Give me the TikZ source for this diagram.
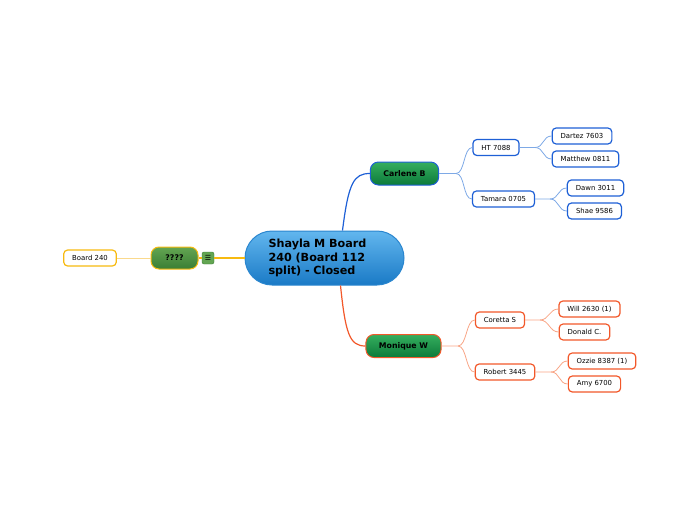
\documentclass[tikz,border=0pt]{standalone}
\usepackage{fontspec}
\setmainfont{DejaVu Sans}
\usepackage{tikz}
\usetikzlibrary{shadings}
\definecolor{rootA}{HTML}{62B6EE}
\definecolor{rootB}{HTML}{1A7AC6}
\definecolor{rootline}{HTML}{2A86CF}
\definecolor{greenA}{HTML}{35AE5E}
\definecolor{greenB}{HTML}{0C7A3A}
\definecolor{oliveA}{HTML}{63A552}
\definecolor{oliveB}{HTML}{3A7E34}
\definecolor{bluedeep}{HTML}{1E60D6}
\definecolor{bluepale}{HTML}{7EA9E6}
\definecolor{redorange}{HTML}{F2582A}
\definecolor{redpale}{HTML}{F8A586}
\definecolor{amber}{HTML}{F7BA10}
\definecolor{amberpale}{HTML}{FAD98C}

\begin{document}
\begin{tikzpicture}[x=1pt, y=-1pt,
  root/.style={draw=rootline, line width=1pt, rounded corners=27, minimum width=159, minimum height=54, top color=rootA, bottom color=rootB, text width=112, align=left, font=\fontsize{11.2}{13.5}\selectfont\bfseries},
  topic/.style={draw, line width=1pt, rounded corners=8, minimum height=23, inner xsep=13, top color=greenA, bottom color=greenB, font=\fontsize{7.8}{9}\selectfont\bfseries},
  leaf/.style={draw, fill=white, line width=1.2pt, rounded corners=4, minimum height=16, inner xsep=8.5, font=\fontsize{6.9}{8}\selectfont},
  thick line/.style={line width=1.2pt},
  thin line/.style={line width=0.8pt}]
\useasboundingbox (0,0) rectangle (697,520);
%center
\node[root] (shayla) at (324.5,258) {Shayla M Board\\240 (Board 112\\split) - Closed};
%left side
\node[topic, draw=amber, top color=oliveA, bottom color=oliveB, minimum width=47, minimum height=22] (unknown) at (174.5,258) {????};
\node[draw=oliveB, fill=oliveA, rounded corners=2, minimum size=12, inner sep=0, font=\fontsize{7}{7}\selectfont] (notes) at (208,258) {☰};
\node[leaf, draw=amber] (b240) at (90,258) {Board 240};
%upper branch
\node[topic, draw=bluedeep] (carlene) at (404.5,173.5) {Carlene B};
\node[leaf, draw=bluedeep] (ht) at (496,147.5) {HT 7088};
\node[leaf, draw=bluedeep] (tamara) at (503.5,199) {Tamara 0705};
\node[leaf, draw=bluedeep] (dartez) at (582,136) {Dartez 7603};
\node[leaf, draw=bluedeep] (matthew) at (585.5,159) {Matthew 0811};
\node[leaf, draw=bluedeep] (dawn) at (595.5,188) {Dawn 3011};
\node[leaf, draw=bluedeep] (shae) at (594.5,211) {Shae 9586};
%lower branch
\node[topic, draw=redorange] (monique) at (403.5,346) {Monique W};
\node[leaf, draw=redorange] (coretta) at (500,320) {Coretta S};
\node[leaf, draw=redorange] (robert) at (505,372) {Robert 3445};
\node[leaf, draw=redorange] (will) at (589.5,309) {Will 2630 (1)};
\node[leaf, draw=redorange] (donald) at (584.5,332) {Donald C.};
\node[leaf, draw=redorange] (ozzie) at (602,361) {Ozzie 8387 (1)};
\node[leaf, draw=redorange] (amy) at (594.5,384) {Amy 6700};
%junctions
\coordinate (jcarlene) at (456,173.5);
\coordinate (jht) at (535,147.5);
\coordinate (jtamara) at (550,199);
\coordinate (jmonique) at (458,346);
\coordinate (jcoretta) at (540,320);
\coordinate (jrobert) at (551,372);
%connectors
\draw[thick line, amber] (shayla.west) -- (notes.east);
\draw[thick line, amber] (notes.west) -- (unknown.east);
\draw[thin line, amberpale] (unknown.west) -- (b240.east);
\draw[thick line, bluedeep] ([xshift=18]shayla.north) .. controls +(6,-48) and +(-16,0) .. (carlene.west);
\draw[thick line, redorange] ([xshift=16]shayla.south) .. controls +(5,48) and +(-16,0) .. (monique.west);
\draw[thin line, bluepale] (carlene.east) -- (jcarlene) .. controls +(9,0) and +(-9,0) .. (ht.west);
\draw[thin line, bluepale] (jcarlene) .. controls +(9,0) and +(-9,0) .. (tamara.west);
\draw[thin line, bluepale] (ht.east) -- (jht) .. controls +(9,0) and +(-9,0) .. (dartez.west);
\draw[thin line, bluepale] (jht) .. controls +(9,0) and +(-9,0) .. (matthew.west);
\draw[thin line, bluepale] (tamara.east) -- (jtamara) .. controls +(9,0) and +(-9,0) .. (dawn.west);
\draw[thin line, bluepale] (jtamara) .. controls +(9,0) and +(-9,0) .. (shae.west);
\draw[thin line, redpale] (monique.east) -- (jmonique) .. controls +(9,0) and +(-9,0) .. (coretta.west);
\draw[thin line, redpale] (jmonique) .. controls +(9,0) and +(-9,0) .. (robert.west);
\draw[thin line, redpale] (coretta.east) -- (jcoretta) .. controls +(9,0) and +(-9,0) .. (will.west);
\draw[thin line, redpale] (jcoretta) .. controls +(9,0) and +(-9,0) .. (donald.west);
\draw[thin line, redpale] (robert.east) -- (jrobert) .. controls +(9,0) and +(-9,0) .. (ozzie.west);
\draw[thin line, redpale] (jrobert) .. controls +(9,0) and +(-9,0) .. (amy.west);
\end{tikzpicture}
\end{document}
